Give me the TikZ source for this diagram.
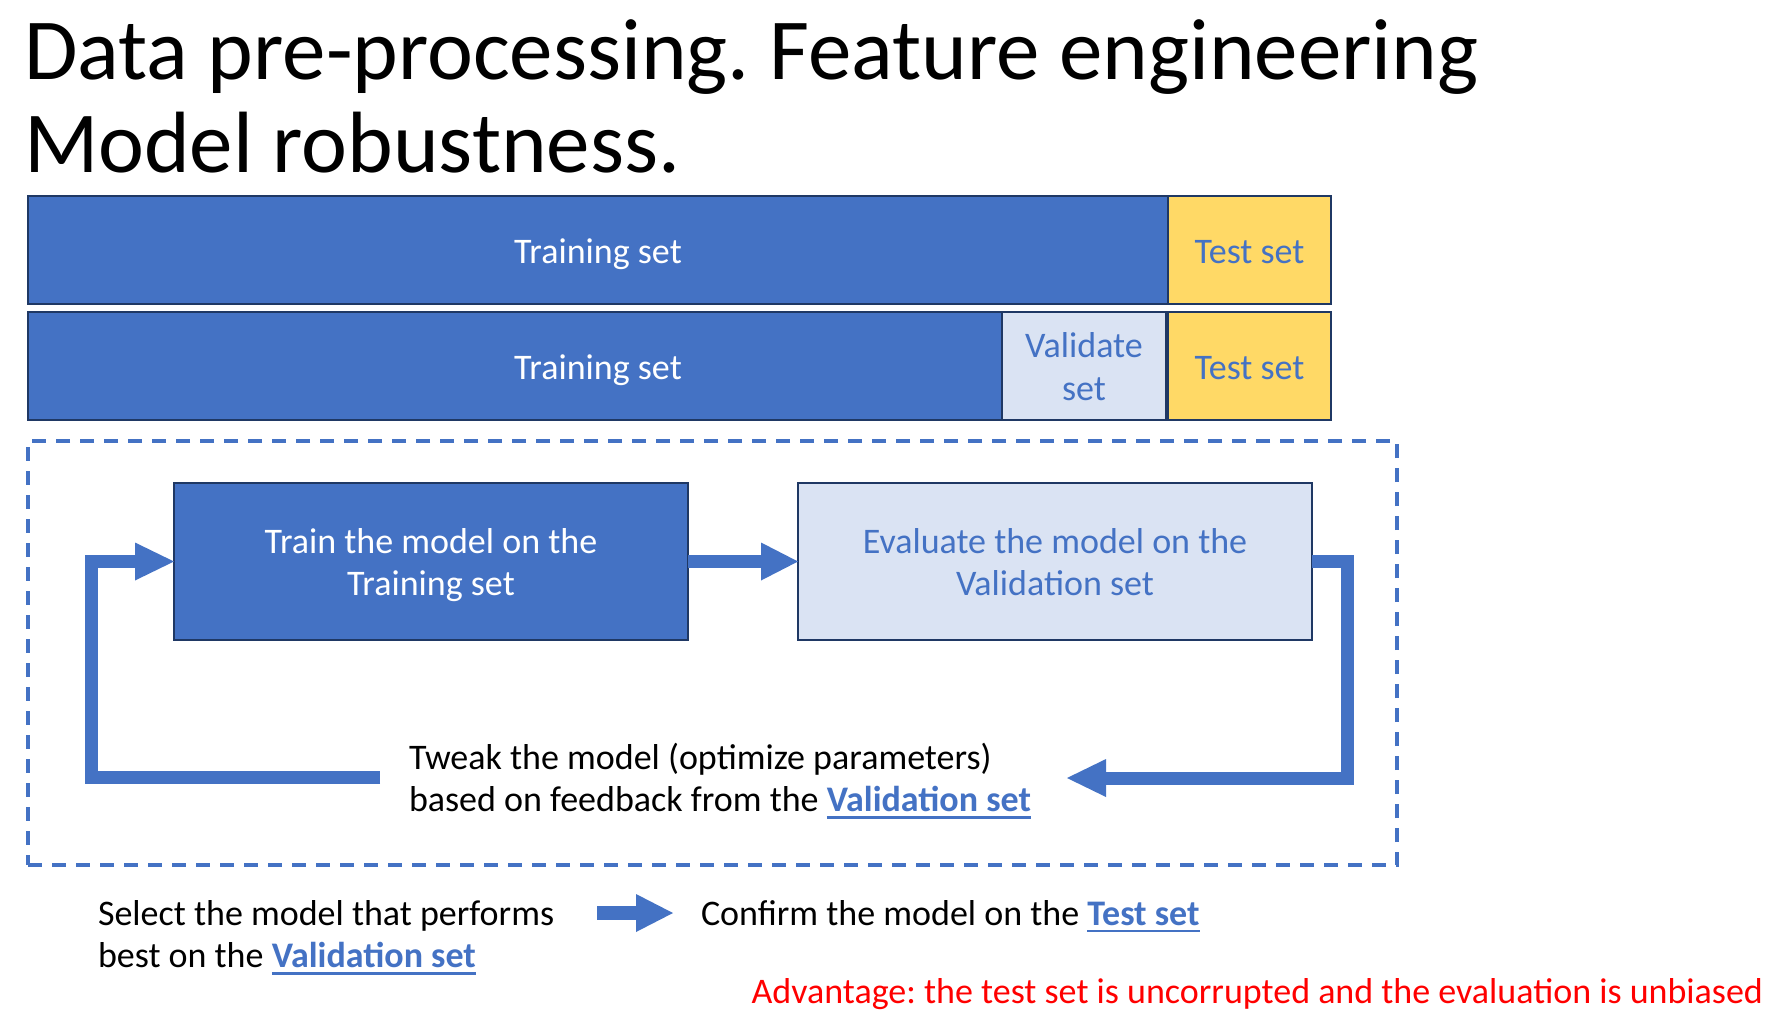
\documentclass[tikz,border=0pt]{standalone}
\usepackage{fontspec}
\setmainfont{Carlito}
\frenchspacing

\definecolor{accent}{HTML}{4472C4}
\definecolor{pale}{HTML}{DAE3F3}
\definecolor{gold}{HTML}{FFD966}
\definecolor{edge}{HTML}{1F3864}

% bold, underlined reference to a data split
\newcommand{\linktext}[1]{{\bfseries\color{accent}\setbox0\hbox{#1}\rlap{\rule[-7pt]{\wd0}{2.2pt}}\box0}}
% invisible strut that evens out two-line box labels
\newcommand{\boxstrut}{\rule[-7pt]{0pt}{40pt}}

\tikzset{
  bodyfont/.style={font=\fontsize{36}{42.5}\selectfont},
  setbox/.style={draw=edge, line width=2pt, bodyfont, align=center},
  oneline/.style={text height=26pt, text depth=0pt},
  trainfill/.style={setbox, fill=accent, text=white},
  validfill/.style={setbox, fill=pale, text=accent},
  testfill/.style={setbox, fill=gold, text=accent},
  shaft/.style={draw=accent, line width=13pt, line join=miter, line cap=butt},
  loopframe/.style={draw=accent, line width=3.5pt, dash pattern=on 14pt off 10pt},
}

\begin{document}
\begin{tikzpicture}[x=1pt, y=-1pt, every node/.style={inner sep=0pt, outer sep=0pt}]
\useasboundingbox (0,0) rectangle (1781,1013);
\fill[white] (0,0) rectangle (1781,1013);

% heading
\node[font=\fontsize{87}{93}\selectfont, anchor=base west] (title) at (24,79)
  {\begin{tabular}[t]{@{}l@{}}Data pre-processing. Feature engineering\\Model robustness.\end{tabular}};

% the two ways of splitting the data
\node[trainfill, oneline, minimum width=1140pt, minimum height=108pt] (trainA) at (598,250) {Training set};
\node[testfill, oneline, minimum width=163pt, minimum height=108pt] (testA) at (1249.5,250) {Test set};
\node[trainfill, oneline, minimum width=1140pt, minimum height=108pt] (trainB) at (598,366) {Training set};
\node[validfill, minimum width=164pt, minimum height=108pt] (valB) at (1084,366) {\boxstrut Validate\\\boxstrut set};
\node[testfill, oneline, minimum width=163pt, minimum height=108pt] (testB) at (1249.5,366) {Test set};

% tuning loop
\node[loopframe, minimum width=1369pt, minimum height=424pt] (frame) at (712.5,653) {};
\node[trainfill, minimum width=514pt, minimum height=157pt] (trainbox) at (431,561.5)
  {\boxstrut Train the model on the\\\boxstrut Training set};
\node[validfill, minimum width=514pt, minimum height=157pt] (evalbox) at (1055,561.5)
  {\boxstrut Evaluate the model on the\\\boxstrut Validation set};

\draw[shaft] (trainbox.east) -- ([xshift=-37pt]evalbox.west);
\fill[accent] ([xshift=-37pt,yshift=19pt]evalbox.west) -- (evalbox.west)
  -- ([xshift=-37pt,yshift=-19pt]evalbox.west) -- cycle;

\coordinate (loopstart) at (380,777.5);
\draw[shaft] (loopstart) -- (91.5,777.5) |- ([xshift=-39pt]trainbox.west);
\fill[accent] ([xshift=-39pt,yshift=19pt]trainbox.west) -- (trainbox.west)
  -- ([xshift=-39pt,yshift=-19pt]trainbox.west) -- cycle;

\coordinate (looptip) at (1067,778);
\draw[shaft] (evalbox.east) -| (1347.5,778) -- ([xshift=39pt]looptip);
\fill[accent] ([xshift=39pt,yshift=19pt]looptip) -- (looptip)
  -- ([xshift=39pt,yshift=-19pt]looptip) -- cycle;

\node[bodyfont, anchor=base west] (tweak) at (409,769)
  {\begin{tabular}[t]{@{}l@{}}Tweak the model (optimize parameters)\\based on feedback from the \linktext{Validation set}\end{tabular}};

% final selection
\node[bodyfont, anchor=base west] (select) at (98,925)
  {\begin{tabular}[t]{@{}l@{}}Select the model that performs\\best on the \linktext{Validation set}\end{tabular}};
\node[bodyfont, anchor=base west] (confirm) at (701,925)
  {Confirm the model on the \linktext{Test set}};
\coordinate (pickfrom) at (597,913);
\coordinate (pickto) at (673,913);
\draw[shaft, line width=14pt] (pickfrom) -- ([xshift=-37pt]pickto);
\fill[accent] ([xshift=-37pt,yshift=19pt]pickto) -- (pickto)
  -- ([xshift=-37pt,yshift=-19pt]pickto) -- cycle;

\node[bodyfont, text=red, anchor=base east] (advantage) at (1763,1003)
  {Advantage: the test set is uncorrupted and the evaluation is unbiased};
\end{tikzpicture}
\end{document}
